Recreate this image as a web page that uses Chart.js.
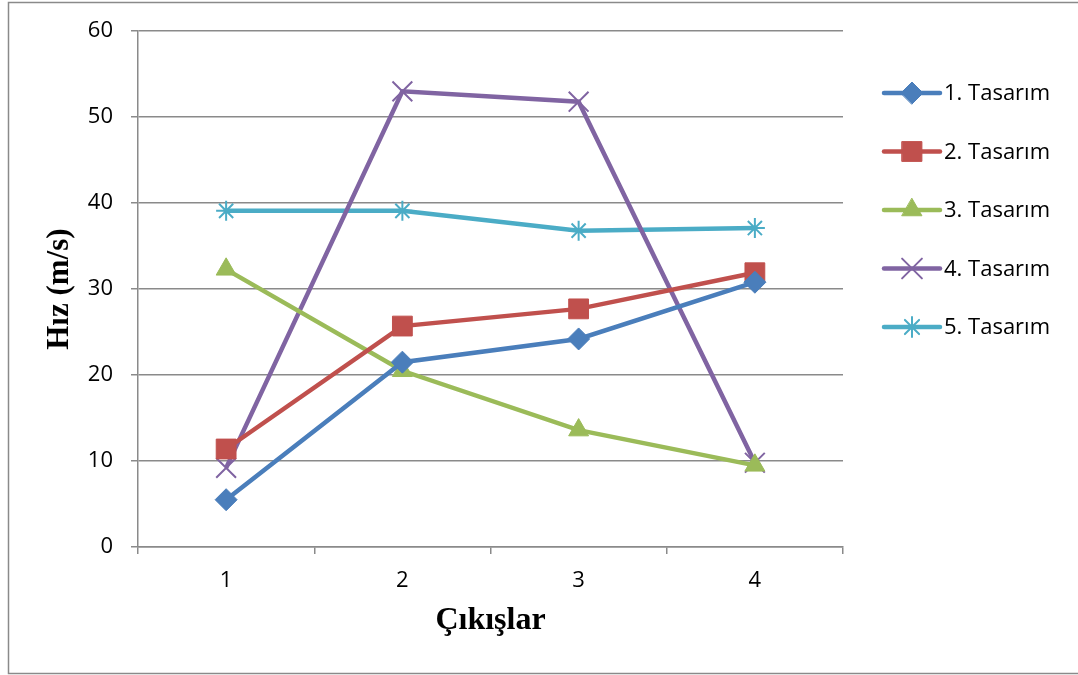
<!DOCTYPE html>
<html>
<head>
<meta charset="utf-8">
<script src="https://cdn.jsdelivr.net/npm/chart.js"></script>
<style>
  body{margin:0;background:#fff;}
  #wrap{width:1078px;height:675px;}
</style>
</head>
<body>
<div id="wrap"><canvas id="hizChart" width="1078" height="675"></canvas></div>
<script>
// ===== Veriler =====
let cikislar = ["1","2","3","4"]
let tasarim1 = [5.5, 21.5, 24.2, 30.8]
let tasarim2 = [11.4, 25.7, 27.7, 31.9]
let tasarim3 = [32.3, 20.5, 13.6, 9.5]
let tasarim4 = [9.2, 53.0, 51.8, 9.8]
let tasarim5 = [39.1, 39.1, 36.8, 37.1]
let seriesNames = ["1. Tasarım","2. Tasarım","3. Tasarım","4. Tasarım","5. Tasarım"]
let yTicks = [0,10,20,30,40,50,60]

const gridColor = "#8a8a8a"

function ds(label,data,color,style,radius,bw){
  return {
    label:label, data:data,
    borderColor:color, backgroundColor:color,
    borderWidth:4.5, tension:0,
    pointStyle:style, pointRadius:radius, pointHoverRadius:radius,
    pointBackgroundColor:color, pointBorderColor:color, pointBorderWidth:bw
  }
}

// ===== Çerçeve + legend =====
const frame = {
  id:"frame",
  beforeDraw(chart){
    let c = chart.ctx
    c.save()
    c.fillStyle = "#fff"
    c.fillRect(0,0,chart.width,chart.height)
    c.strokeStyle = gridColor
    c.lineWidth = 1.5
    c.strokeRect(8.5,2.5,1090,671)
    c.restore()
  },
  afterDraw(chart){
    let c = chart.ctx
    let x0 = chart.chartArea.right + 41
    c.save()
    chart.data.datasets.forEach(function(d,i){
      let y = 93 + i*58.5
      c.strokeStyle = d.borderColor
      c.lineWidth = 4.5
      c.lineCap = "round"
      c.beginPath(); c.moveTo(x0,y); c.lineTo(x0+56,y); c.stroke()
      c.fillStyle = d.pointBackgroundColor
      c.strokeStyle = d.pointBorderColor
      c.lineWidth = d.pointBorderWidth
      Chart.helpers.drawPoint(c,{pointStyle:d.pointStyle,radius:d.pointRadius,rotation:0,borderWidth:d.pointBorderWidth},x0+28,y)
      c.fillStyle = "#000"
      c.font = "22px 'Open Sans'"
      c.textBaseline = "middle"
      c.textAlign = "left"
      c.fillText(d.label,x0+60,y+1)
    })
    c.restore()
  }
}

let ctx = document.getElementById("hizChart")
let chart = new Chart(ctx,{
  type:"line",
  data:{
    labels:cikislar,
    datasets:[
      ds(seriesNames[0],tasarim1,"#4a7ebb","rectRot",11,1),
      ds(seriesNames[1],tasarim2,"#c0504d","rect",14,1),
      ds(seriesNames[2],tasarim3,"#9bbb59","triangle",11.5,1),
      ds(seriesNames[3],tasarim4,"#8064a2","crossRot",14,2),
      ds(seriesNames[4],tasarim5,"#4bacc6","star",10,2)
    ]
  },
  options:{
    responsive:false,
    animation:false,
    layout:{padding:{top:31,right:235,left:0,bottom:0}},
    plugins:{legend:{display:false},tooltip:{enabled:false}},
    scales:{
      x:{
        offset:true,
        grid:{drawOnChartArea:false,drawTicks:true,offset:true,tickLength:7,color:gridColor,lineWidth:1.5},
        border:{color:gridColor,width:1.5},
        ticks:{color:"#000",font:{family:"'Open Sans'",size:22},padding:14},
        title:{display:true,text:"Çıkışlar",color:"#000",font:{family:"'Liberation Serif'",size:32,weight:"bold"},padding:{top:0,bottom:35}},
        afterFit(s){ s.height = 128 }
      },
      y:{
        min:0,max:60,
        afterBuildTicks(s){ s.ticks = yTicks.map(v=>({value:v})) },
        grid:{color:gridColor,lineWidth:1.5,tickLength:7},
        border:{color:gridColor,width:1.5},
        ticks:{color:"#000",font:{family:"'Open Sans'",size:22},padding:18},
        title:{display:true,text:"Hız (m/s)",color:"#000",font:{family:"'Liberation Serif'",size:31,weight:"bold"},padding:{top:41,bottom:0}},
        afterFit(s){ s.width = 138 }
      }
    }
  },
  plugins:[frame]
})
</script>
</body>
</html>
